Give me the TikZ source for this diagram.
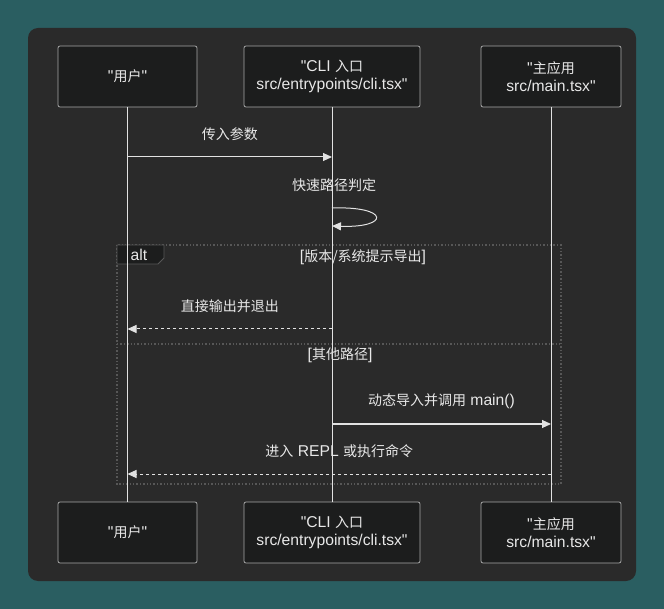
\documentclass[tikz,border=0pt]{standalone}
\usepackage{fontspec}
\setmainfont{Liberation Sans}[Ligatures=TeXOff,Scale=1.12]
\newfontfamily\cjk{Noto Sans CJK SC}
\usetikzlibrary{arrows.meta,positioning}

\definecolor{bgteal}{HTML}{2A5E61}
\definecolor{panel}{HTML}{2A2A2A}
\definecolor{boxfill}{HTML}{1C1D1D}
\definecolor{boxline}{HTML}{A8A8A8}
\definecolor{lifecol}{HTML}{E2E2E2}
\definecolor{txt}{HTML}{E8E8E8}
\definecolor{altcol}{HTML}{575757}

\begin{document}
\begin{tikzpicture}[x=1pt,y=-1pt,
		actor/.style={draw=boxline,fill=boxfill,rounded corners=2pt,line width=0.8pt,
			minimum width=139pt,minimum height=61pt,align=center,text=txt,
			font=\fontsize{14}{18.5}\selectfont},
		msg/.style={text=txt,font=\fontsize{14}{18}\selectfont},
		life/.style={draw=lifecol,line width=1pt},
		call/.style={life,-{Triangle[length=9pt,width=8pt]}},
		reply/.style={call,dash pattern=on 3pt off 3pt}]
	\useasboundingbox (0,0) rectangle (664,609);
	\fill[bgteal] (0,0) rectangle (664,609);
	\fill[panel,rounded corners=10pt] (28,28) rectangle (636,581);
	
	\node[actor] (userT) at (127.5,76.5) {"{\cjk 用户}"};
	\node[actor,minimum width=176pt] (cliT) at (332,76.5) {"CLI {\cjk 入口}\\src/entrypoints/cli.tsx"};
	\node[actor,minimum width=140pt] (appT) at (551,76.5) {"{\cjk 主应用}\\src/main.tsx"};
	\node[actor] (userB) at (127.5,532.5) {"{\cjk 用户}"};
	\node[actor,minimum width=176pt] (cliB) at (332,532.5) {"CLI {\cjk 入口}\\src/entrypoints/cli.tsx"};
	\node[actor,minimum width=140pt] (appB) at (551,532.5) {"{\cjk 主应用}\\src/main.tsx"};
	
	% alt frame
	\draw[altcol,line width=1.4pt,dotted] (117,245) rectangle (561,484);
	\draw[altcol,line width=1.4pt,dotted] (117,344) -- (561,344);
	\draw[altcol,fill=boxfill,line width=0.8pt] (117,245) -- (164,245) -- (164,258) -- (158,264) -- (117,264) -- cycle;
	\node[msg] (altlbl) at (139,255) {alt};
	\node[msg] (cond1) at (363,257) {[{\cjk 版本/系统提示导出}]};
	\node[msg] (cond2) at (340,355) {[{\cjk 其他路径}]};
	
	\foreach \n in {user,cli,app}
	\draw[life] (\n T) -- (\n B);
	
	\draw[call] (userT.south |- 0,157) -- (cliT.south |- 0,157)
		node[msg,midway,yshift=23pt] {\cjk 传入参数};
	\node[msg] (fast) at (334,185) {\cjk 快速路径判定};
	\draw[call] (cliT.south |- 0,208) .. controls (390,206) and (390,228) .. (cliT.south |- 0,226);
	\draw[reply] (cliT.south |- 0,329) -- (userT.south |- 0,329)
		node[msg,midway,yshift=23pt] {\cjk 直接输出并退出};
	\draw[call] (cliT.south |- 0,424) -- (appT.south |- 0,424)
		node[msg,midway,yshift=23pt] {{\cjk 动态导入并调用} main()};
	\draw[reply] (appT.south |- 0,474) -- (userT.south |- 0,474)
		node[msg,midway,yshift=23pt] {{\cjk 进入} REPL {\cjk 或执行命令}};
\end{tikzpicture}
\end{document}
